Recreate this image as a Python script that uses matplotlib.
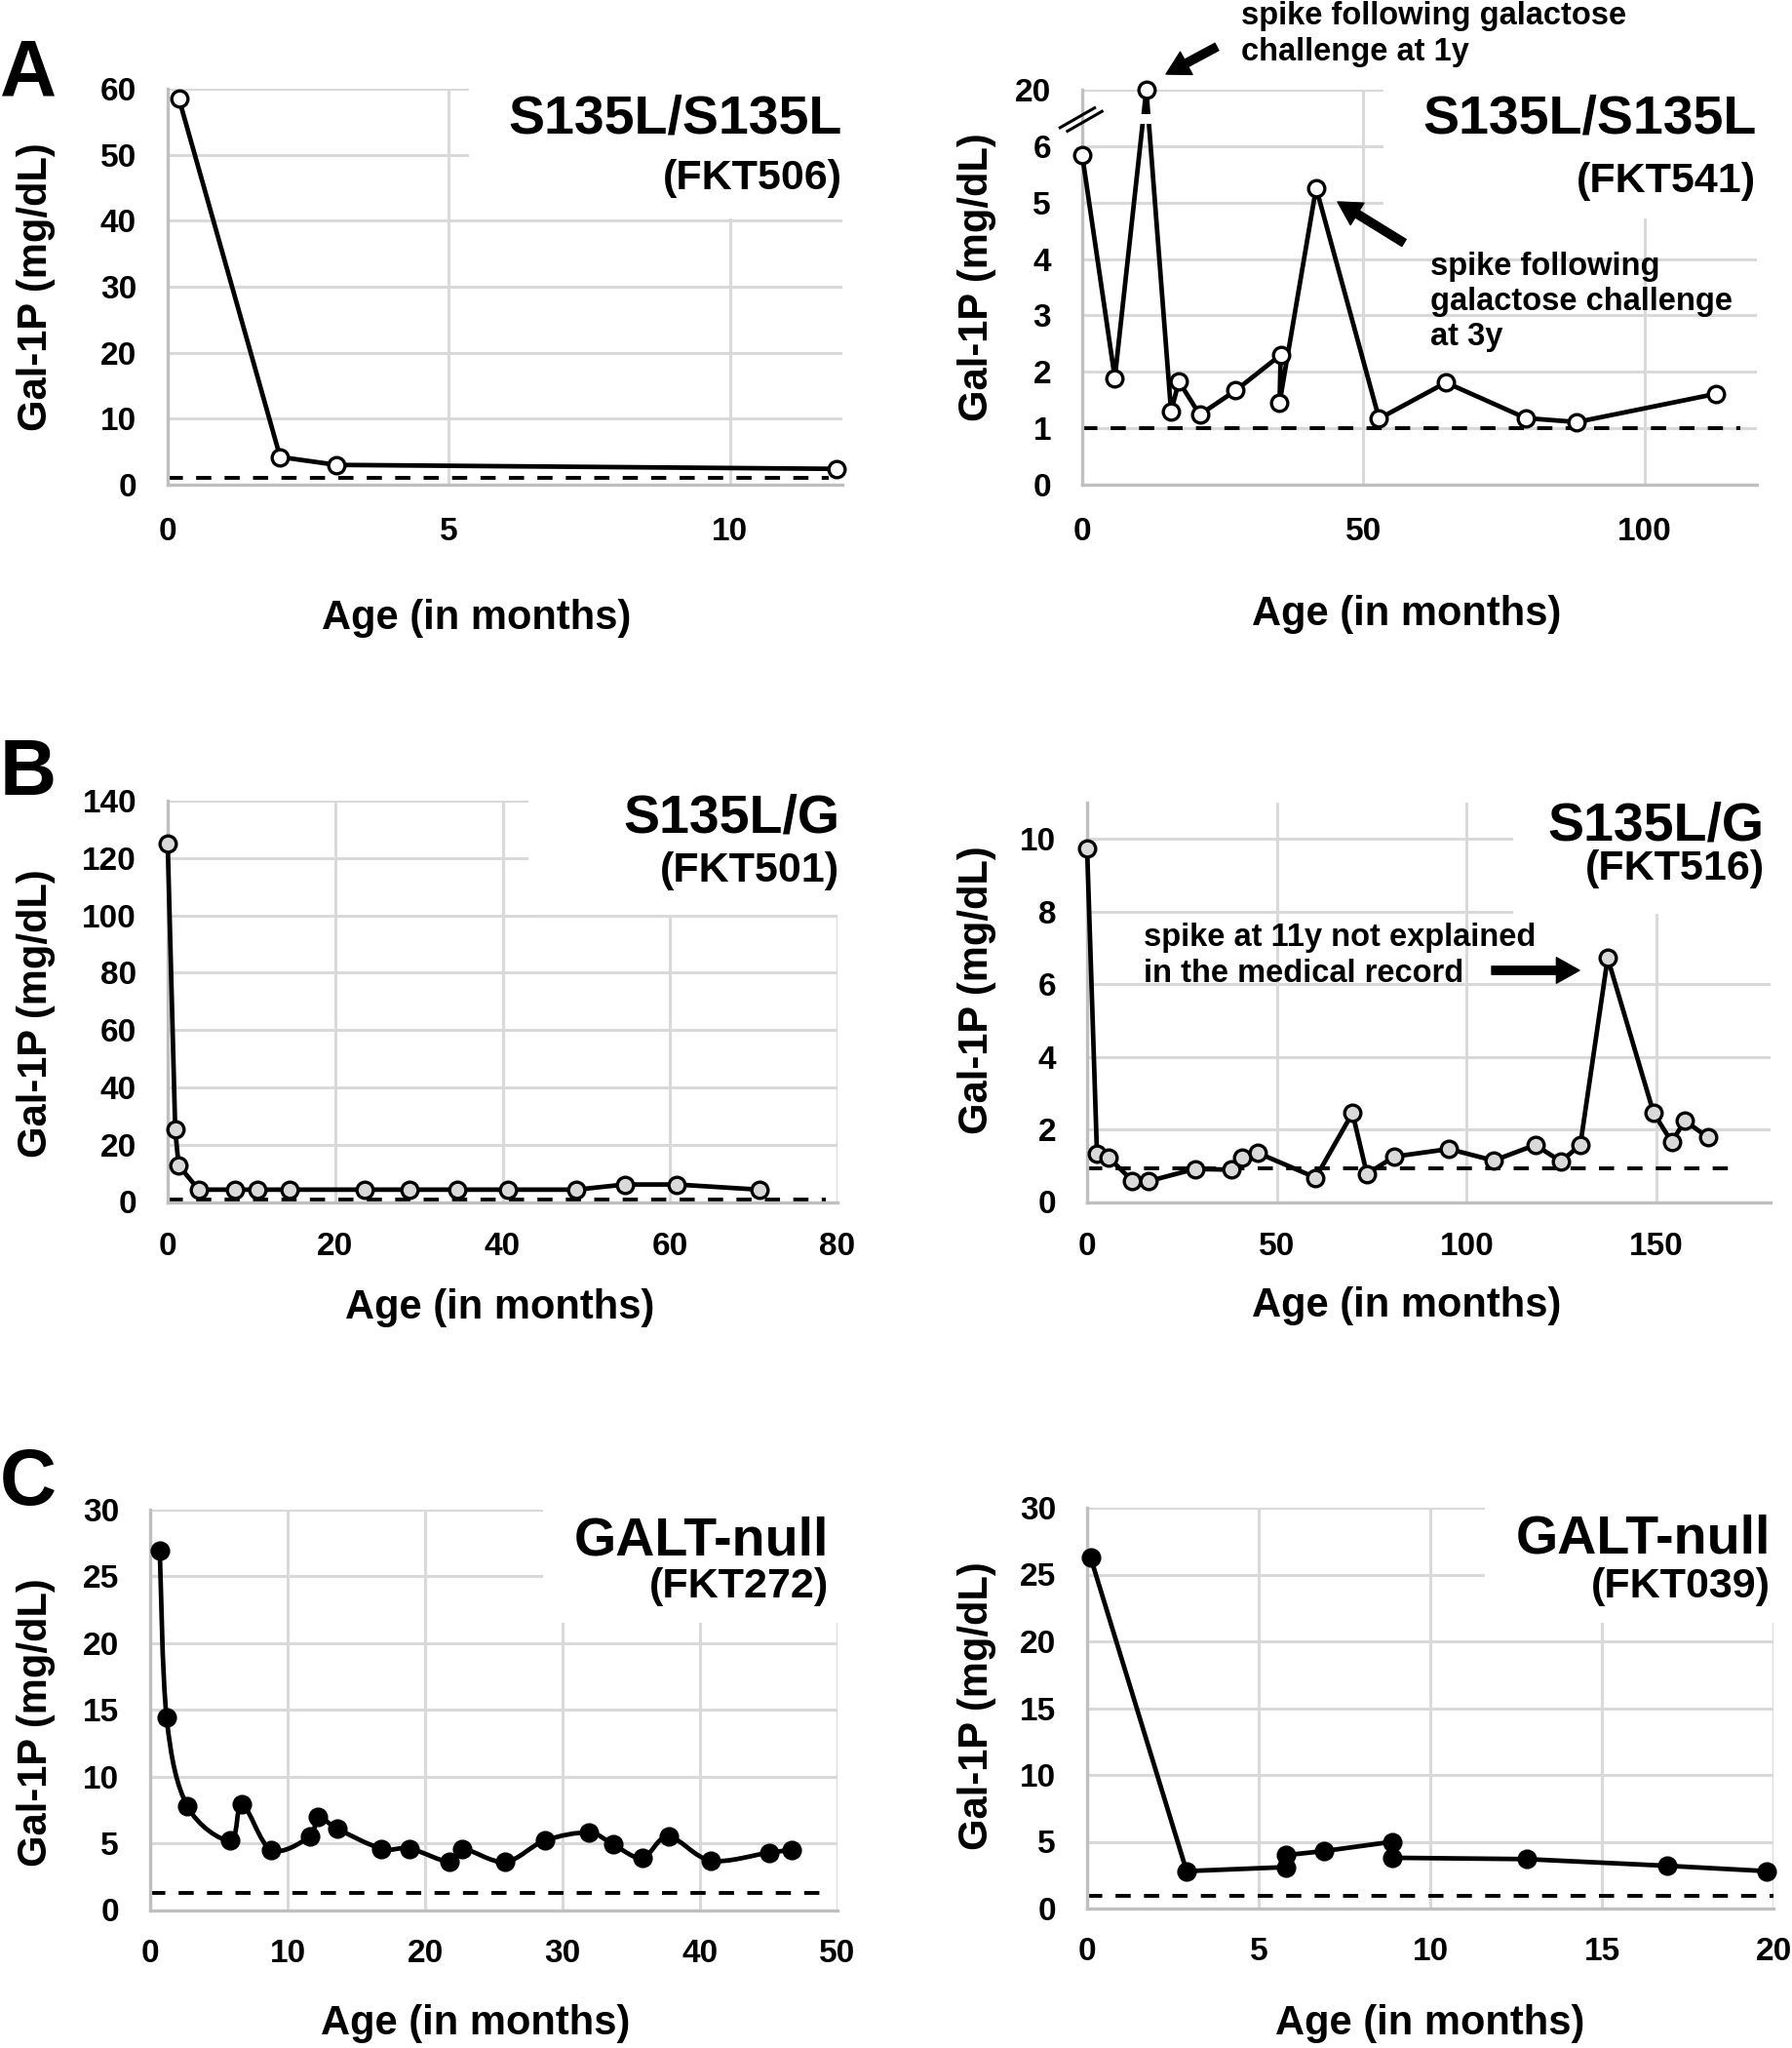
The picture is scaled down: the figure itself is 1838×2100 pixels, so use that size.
import numpy as np
import matplotlib
matplotlib.use("Agg")
import matplotlib.pyplot as plt
from matplotlib.patches import Rectangle, FancyArrowPatch, PathPatch
from matplotlib.path import Path

plt.rcParams["font.family"] = ["Liberation Sans", "DejaVu Sans"]
plt.rcParams["font.weight"] = "bold"

# ---- data (age in months, Gal-1P in mg/dL) ----
# A: S135L/S135L, FKT506
age_506 = [0.2, 2.0, 3.0, 11.9]
gal_506 = [58.5, 4.2, 3.0, 2.4]

# A: S135L/S135L, FKT541 (y axis broken between 6 and 20)
age_541 = [0, 5.8, 11.4, 15.8, 17.2, 20.9, 27.3, 35.3, 35.1, 41.6, 52.8, 64.7, 78.9, 88.0, 112.7]
gal_541 = [5.84, 1.89, 20, 1.30, 1.83, 1.24, 1.67, 2.30, 1.45, 5.26, 1.17, 1.81, 1.18, 1.11, 1.61]

# B: S135L/G, FKT501
age_501 = [0, 0.9, 1.3, 3.7, 8.0, 10.7, 14.5, 23.5, 28.9, 34.6, 40.6, 48.8, 54.6, 60.8, 70.7]
gal_501 = [125, 25.2, 12.8, 4.3, 4.3, 4.3, 4.3, 4.3, 4.3, 4.3, 4.3, 4.3, 6.1, 6.1, 4.3]

# B: S135L/G, FKT516
age_516 = [0, 2.6, 5.6, 11.9, 16.1, 28.4, 37.9, 40.9, 45.0, 60.2, 69.9, 73.7, 80.9, 95.3,
           107.1, 118.0, 124.8, 129.9, 137.1, 149.2, 154.0, 157.4, 163.5]
gal_516 = [9.75, 1.33, 1.23, 0.59, 0.57, 0.91, 0.89, 1.23, 1.35, 0.67, 2.45, 0.77, 1.25, 1.46,
           1.14, 1.57, 1.12, 1.57, 6.72, 2.45, 1.65, 2.24, 1.78]

# C: GALT-null, FKT272
age_272 = [0.7, 1.2, 2.7, 5.8, 6.7, 8.8, 11.6, 12.2, 13.6, 16.8, 18.9, 21.8, 22.7, 25.8,
           28.7, 31.9, 33.7, 35.8, 37.7, 40.8, 45.0, 46.7]
gal_272 = [26.9, 14.4, 7.8, 5.2, 7.9, 4.5, 5.5, 7.0, 6.1, 4.6, 4.6, 3.6, 4.6, 3.6,
           5.2, 5.8, 4.9, 3.9, 5.5, 3.7, 4.3, 4.5]

# C: GALT-null, FKT039
age_039 = [0.1, 2.9, 5.8, 5.8, 6.9, 8.9, 8.9, 12.8, 16.9, 19.8]
gal_039 = [26.3, 2.8, 3.1, 4.0, 4.3, 5.0, 3.8, 3.7, 3.2, 2.8]

# dashed reference level drawn in each panel
ref_level = {"506": 1.0, "541": 1.0, "501": 1.0, "516": 0.93, "272": 1.25, "039": 0.95}
ref_end = {"506": 11.75, "541": 117, "501": 78.6, "516": 172, "272": 49.1, "039": 20}

W, H = 1838, 2100
GRID = "#d9d9d9"
SPINE = "#bfbfbf"
LW = 3.4

fig = plt.figure(figsize=(W / 100, H / 100), dpi=100)


def panel(box, xlim, ylim, xticks, yticks, xpad):
    x0, x1, ytop, ybot = box
    ax = fig.add_axes([x0 / W, 1 - ybot / H, (x1 - x0) / W, (ybot - ytop) / H])
    ax.set_xlim(*xlim)
    ax.set_ylim(*ylim)
    ax.set_xticks(xticks)
    ax.set_yticks(yticks)
    ax.grid(True, color=GRID, lw=2.2)
    ax.set_axisbelow(True)
    for s in ("top", "right"):
        ax.spines[s].set_visible(False)
    for s in ("left", "bottom"):
        ax.spines[s].set_color(SPINE)
        ax.spines[s].set_linewidth(2.4)
    ax.tick_params(length=0, labelsize=24)
    ax.tick_params(axis="y", pad=23)
    ax.tick_params(axis="x", pad=xpad)
    return ax


def labels(ax, xl, yl):
    ax.set_xlabel("Age (in months)", fontsize=30, fontweight="bold")
    ax.xaxis.set_label_coords(*xl)
    ax.xaxis.label.set_va("baseline")
    ax.set_ylabel("Gal-1P (mg/dL)", fontsize=30, fontweight="bold", va="center")
    ax.yaxis.set_label_coords(*yl)


def title(ax, main, sub, xr, ym, ys, mask):
    # white box behind the genotype label hides the grid there
    ax.add_patch(Rectangle(mask, 1 - mask[0], 1 - mask[1], transform=ax.transAxes,
                           fc="white", ec="none", zorder=1))
    ax.text(xr, ym, main, transform=ax.transAxes, ha="right", va="baseline",
            fontsize=40, fontweight="bold", zorder=5)
    ax.text(xr, ys, sub, transform=ax.transAxes, ha="right", va="baseline",
            fontsize=31, fontweight="bold", zorder=5)


def ref_line(ax, key):
    ax.plot([0, ref_end[key]], [ref_level[key]] * 2, color="black", lw=2.8,
            linestyle=(0, (4, 3.5)), zorder=2.5, clip_on=False)


def series(ax, x, y, fill):
    ax.plot(x, y, color="black", lw=LW, marker="o", ms=12, mfc=fill, mec="black",
            mew=2.4, zorder=3, clip_on=False)


def smooth_path(x, y):
    # Catmull-Rom style Bezier through the measured points (Excel "smoothed line")
    p = np.column_stack([x, y]).astype(float)
    n = len(p)
    verts, codes = [p[0]], [Path.MOVETO]
    for i in range(n - 1):
        pa = p[i - 1] if i > 0 else p[i]
        pd = p[i + 2] if i + 2 < n else p[i + 1]
        verts += [p[i] + (p[i + 1] - pa) / 6, p[i + 1] - (pd - p[i]) / 6, p[i + 1]]
        codes += [Path.CURVE4] * 3
    return Path(verts, codes)


def ftext(x, y, s, **kw):
    fig.text(x / W, 1 - y / H, s, **kw)


def arrow(tail, tip):
    fig.add_artist(FancyArrowPatch((tail[0] / W, 1 - tail[1] / H), (tip[0] / W, 1 - tip[1] / H),
                                   transform=fig.transFigure, color="black",
                                   arrowstyle="simple,head_width=19,head_length=17,tail_width=6",
                                   mutation_scale=1, shrinkA=0, shrinkB=0))


# ---------------- A left ----------------
ax = panel((172, 864, 91, 497), (0, 12), (0, 60), [0, 5, 10], range(0, 61, 10), 24)
ref_line(ax, "506")
series(ax, age_506, gal_506, "white")
title(ax, "S135L/S135L", "(FKT506)", 1.0, 0.887, 0.746, (0.447, 0.672))
labels(ax, (0.457, -0.3645), (-0.195, 0.5))

# ---------------- A right (broken axis) ----------------
def brk(v):
    v = np.asarray(v, dtype=float)
    return np.where(v > 6, 6 + (v - 6) / 14, v)

ax = panel((1110, 1802, 92, 497), (0, 120), (0, 7), [0, 50, 100], range(0, 8), 24)
ax.set_yticklabels(["0", "1", "2", "3", "4", "5", "6", "20"])
ref_line(ax, "541")
y541 = brk(gal_541)
series(ax, age_541, y541, "white")
x_sp = np.asarray(age_541)[np.argmax(gal_541)]
ax.fill_between([x_sp - 2, x_sp + 2], 6.39, 6.57, color="white", zorder=3.5, lw=0)
for dx in (0.0, 0.011):
    ax.plot([-0.0328 + dx, 0.0183 + dx], [0.904 - 0.8 * dx, 0.954 - 0.8 * dx], color="black",
            lw=2.2, transform=ax.transAxes, clip_on=False, zorder=6)
title(ax, "S135L/S135L", "(FKT541)", 0.999, 0.889, 0.741, (0.447, 0.674))
labels(ax, (0.481, -0.356), (-0.156, 0.526))

# ---------------- B left ----------------
ax = panel((172, 859, 821, 1232.5), (0, 80), (0, 140), range(0, 81, 20), range(0, 141, 20), 22)
ref_line(ax, "501")
series(ax, age_501, gal_501, "#d9d9d9")
title(ax, "S135L/G", "(FKT501)", 1.003, 0.922, 0.798, (0.539, 0.716))
labels(ax, (0.496, -0.29), (-0.1965, 0.47))

# ---------------- B right ----------------
ax = panel((1115, 1816, 823, 1232.5), (0, 180), (0, 11), [0, 50, 100, 150], range(0, 11, 2), 22)
ref_line(ax, "516")
series(ax, age_516, gal_516, "#d9d9d9")
title(ax, "S135L/G", "(FKT516)", 0.991, 0.907, 0.807, (0.623, 0.722))
labels(ax, (0.468, -0.287), (-0.161, 0.531))

# ---------------- C left (smoothed line) ----------------
ax = panel((154, 859, 1548, 1958.5), (0, 50), (0, 30), range(0, 51, 10), range(0, 31, 5), 21)
ref_line(ax, "272")
ax.add_patch(PathPatch(smooth_path(age_272, gal_272), fc="none", ec="black", lw=LW, zorder=3))
ax.plot(age_272, gal_272, "o", ms=13.5, mfc="black", mec="black", mew=1, zorder=4)
title(ax, "GALT-null", "(FKT272)", 0.987, 0.886, 0.781, (0.571, 0.717))
labels(ax, (0.474, -0.31), (-0.166, 0.469))

# ---------------- C right ----------------
ax = panel((1115, 1819, 1546, 1957), (0, 20), (0, 30), range(0, 21, 5), range(0, 31, 5), 21)
ref_line(ax, "039")
ax.plot(age_039, gal_039, color="black", lw=LW, marker="o", ms=13.5, mfc="black",
        mec="black", mew=1, zorder=3, clip_on=False)
title(ax, "GALT-null", "(FKT039)", 0.996, 0.887, 0.776, (0.58, 0.714))
labels(ax, (0.5, -0.315), (-0.1605, 0.506))

# ---------------- panel letters ----------------
for letter, yb in (("A", 98), ("B", 815), ("C", 1543)):
    ftext(0, yb, letter, fontsize=58, fontweight="bold", va="baseline", ha="left")

# ---------------- annotations ----------------
akw = dict(fontsize=23.5, fontweight="bold", va="baseline", ha="left")
for line, yb in (("spike following galactose", 25), ("challenge at 1y", 62)):
    ftext(1273, yb, line, **akw)
for line, yb in (("spike following", 282), ("galactose challenge", 318), ("at 3y", 354)):
    ftext(1467, yb, line, **akw)
for line, yb in (("spike at 11y not explained", 970), ("in the medical record", 1007)):
    ftext(1173, yb, line, **akw)

arrow((1248, 48), (1196, 76))
arrow((1440, 249), (1372, 207))
arrow((1530, 995), (1620, 995))

fig.savefig("out.png", dpi=100)
